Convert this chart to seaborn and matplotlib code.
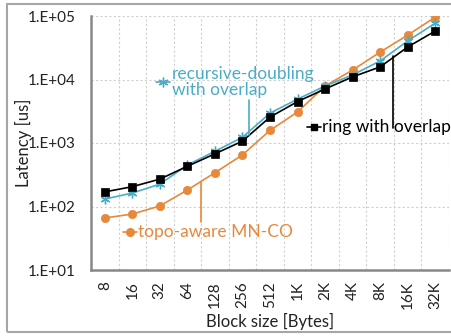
import matplotlib
matplotlib.use("Agg")
import matplotlib.pyplot as plt
from matplotlib.patches import Rectangle
from matplotlib.lines import Line2D
import seaborn as sns
import pandas as pd
import numpy as np

block_sizes = ["8", "16", "32", "64", "128", "256", "512", "1K", "2K", "4K", "8K", "16K", "32K"]
ring_overlap = [170, 205, 270, 430, 675, 1070, 2560, 4490, 7100, 11000, 15800, 32500, 58000]
recdbl_overlap = [131, 163, 225, 450, 740, 1230, 2950, 4900, 7900, 11800, 19600, 40500, 77000]
topo_mnco = [66, 76, 102, 182, 340, 650, 1580, 3080, 7900, 14100, 27000, 50000, 96000]
y_ticks = [1e1, 1e2, 1e3, 1e4, 1e5]
y_tick_labels = ["1.E+01", "1.E+02", "1.E+03", "1.E+04", "1.E+05"]

series_names = ["ring with overlap", "recursive-doubling\nwith overlap", "topo-aware MN-CO"]
colors = {"ring with overlap": "#000000",
          "recursive-doubling\nwith overlap": "#4BACC6",
          "topo-aware MN-CO": "#E8883A"}
markers = {"ring with overlap": "s",
           "recursive-doubling\nwith overlap": (6, 2, 0),
           "topo-aware MN-CO": "o"}
msizes = {"ring with overlap": 5.5,
          "recursive-doubling\nwith overlap": 7,
          "topo-aware MN-CO": 6}

rows = []
for name, vals in zip(series_names, [ring_overlap, recdbl_overlap, topo_mnco]):
    for i, v in enumerate(vals):
        rows.append({"x": i, "latency": v, "series": name})
df = pd.DataFrame(rows)

sns.set_style("white")
plt.rcParams["font.family"] = ["Lato", "DejaVu Sans"]

fig = plt.figure(figsize=(4.52, 3.36), dpi=100)
ax = fig.add_axes([91/452, 1 - 270/336, 358/452, 254/336])

# draw order: orange, blue, black on top
for name in ["topo-aware MN-CO", "recursive-doubling\nwith overlap", "ring with overlap"]:
    sub = df[df["series"] == name]
    sns.lineplot(data=sub, x="x", y="latency", ax=ax, color=colors[name],
                 marker=markers[name], markersize=msizes[name],
                 markeredgecolor=colors[name], markeredgewidth=1.0 if name.startswith("rec") else 0.5,
                 linewidth=1.2, legend=False)

ax.set_yscale("log")
ax.set_ylim(10, 1e5)
ax.set_xlim(-0.5, len(block_sizes) - 0.5)

ax.set_yticks(y_ticks)
ax.set_yticklabels(y_tick_labels)
ax.yaxis.set_minor_locator(matplotlib.ticker.NullLocator())
ax.set_xticks(np.arange(len(block_sizes)))
ax.set_xticklabels(block_sizes, rotation=90)
ax.set_xticks(np.arange(len(block_sizes) + 1) - 0.5, minor=True)

ax.tick_params(axis="x", which="major", length=0, pad=8, labelsize=11, colors="#222222")
ax.tick_params(axis="x", which="minor", length=6, width=1.5, color="#888888", direction="out")
ax.tick_params(axis="y", which="major", length=6, width=1.5, color="#888888", direction="out",
               labelsize=11, pad=5, labelcolor="#222222")

ax.grid(False)
for xv in np.arange(1, len(block_sizes) + 1) - 0.5:
    ax.axvline(xv, color="#D0D0D0", lw=0.8, ls=(0, (2, 2)), zorder=0)
for yv in y_ticks[1:]:
    ax.axhline(yv, color="#D0D0D0", lw=0.8, ls=(0, (2, 2)), zorder=0)

for s in ["top", "right"]:
    ax.spines[s].set_visible(False)
for s in ["left", "bottom"]:
    ax.spines[s].set_color("#888888")
    ax.spines[s].set_linewidth(1.8)

ax.set_xlabel("Block size [Bytes]", fontsize=12, color="#222222")
ax.set_ylabel("Latency [us]", fontsize=12, color="#222222")
ax.xaxis.set_label_coords(0.5, -(321 - 270) / 254)
ax.xaxis.label.set_va("center")
ax.yaxis.set_label_coords(-(91 - 23) / 358, 0.5)
ax.yaxis.label.set_va("center")

def px(xp, yp):
    # figure pixel -> figure fraction
    return xp / 452, 1 - yp / 336

def add_label(text, color, marker, ms, mx, my, tx, ty, lead):
    fig.add_artist(Line2D([px(mx - 7, my)[0], px(mx + 7, my)[0]], [px(mx, my)[1]] * 2,
                          color=color, lw=1.2, transform=fig.transFigure))
    fig.add_artist(Line2D([px(mx, my)[0]], [px(mx, my)[1]], marker=marker, ms=ms, color=color,
                          mec=color, transform=fig.transFigure))
    fig.text(*px(tx, ty), text, color=color, fontsize=12.5, va="center", ha="left",
             linespacing=0.95)
    (x0, y0), (x1, y1) = lead
    fig.add_artist(Line2D([px(x0, y0)[0], px(x1, y1)[0]], [px(x0, y0)[1], px(x1, y1)[1]],
                          color=color, lw=1.2, transform=fig.transFigure))

add_label("recursive-doubling\nwith overlap", colors["recursive-doubling\nwith overlap"],
          (6, 2, 0), 7, 163, 82, 172, 82, ((249, 100), (249, 135)))
add_label("ring with overlap", "#000000", "s", 5, 314, 127, 322, 127, ((393, 56), (393, 128)))
add_label("topo-aware MN-CO", colors["topo-aware MN-CO"], "o", 5.5, 130, 232, 138, 232,
          ((201, 182), (201, 222)))

fig.add_artist(Rectangle(px(7, 332), 1.2, 328 / 336, transform=fig.transFigure,
                         fill=False, edgecolor="#A6A6A6", lw=1.5))

fig.savefig("out.png", dpi=100)
